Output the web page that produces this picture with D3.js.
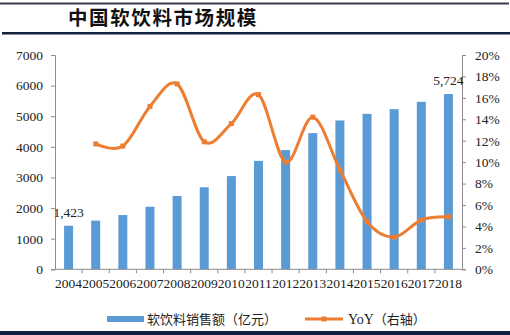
<!DOCTYPE html>
<html><head><meta charset="utf-8">
<script src="https://cdn.jsdelivr.net/npm/d3@7/dist/d3.min.js"></script>
<style>
body{margin:0;background:#fff;}
svg{display:block;}
</style></head>
<body><svg id="c" width="510" height="335"></svg>
<script>
const title = "中国软饮料市场规模";
const years = ["2004","2005","2006","2007","2008","2009","2010","2011","2012","2013","2014","2015","2016","2017","2018"];
const sales = [1423,1590,1772,2042,2395,2680,3045,3541,3895,4448,4862,5078,5231,5471,5724];
const yoy = [null,11.7,11.5,15.2,17.3,11.9,13.6,16.3,10.0,14.2,9.3,4.45,3.0,4.6,4.9];
const leftTicks = [0,1000,2000,3000,4000,5000,6000,7000];
const rightTicks = [0,2,4,6,8,10,12,14,16,18,20];
const barLabelIdx = [0,14];
const seriesNames = ["软饮料销售额（亿元）","YoY","（右轴）"];

const svg = d3.select("#c");
const M = {l:55, r:462, t:55, b:269.3};
const serif = "'Liberation Serif','Times New Roman',serif";
const cjk = "'Noto Sans CJK SC',sans-serif";
const barColor = "#5B9BD5", lineColor = "#ED7D31", axisColor = "#8c8c8c";

// decorative rules
svg.append("rect").attr("x",0).attr("y",2.5).attr("width",509).attr("height",2).attr("fill","#3b3a4c");
svg.append("rect").attr("x",2).attr("y",32).attr("width",508).attr("height",2.5).attr("fill","#13213f");
svg.append("rect").attr("x",0).attr("y",331).attr("width",510).attr("height",4).attr("fill","#0f2040");

svg.append("text").attr("x",68).attr("y",25).text(title)
  .attr("font-family",cjk).attr("font-weight",700).attr("font-size",19.5)
  .attr("letter-spacing",1.6).attr("fill","#111");

const x = d3.scaleBand().domain(years).range([M.l,M.r]);
const yL = d3.scaleLinear().domain([0,7000]).range([M.b,M.t]);
const yR = d3.scaleLinear().domain([0,20]).range([M.b,M.t]);

// bars
const bw = 9;
svg.append("g").selectAll("rect").data(sales).join("rect")
  .attr("x",(d,i)=>x(years[i])+x.bandwidth()/2-bw/2)
  .attr("y",d=>yL(d)).attr("width",bw).attr("height",d=>yL(0)-yL(d))
  .attr("fill",barColor);

// axes
const gL = svg.append("g").attr("transform",`translate(${M.l},0)`)
  .call(d3.axisLeft(yL).tickValues(leftTicks).tickSize(4).tickPadding(8).tickFormat(d3.format("d")));
const gR = svg.append("g").attr("transform",`translate(${M.r},0)`)
  .call(d3.axisRight(yR).tickValues(rightTicks).tickSize(4).tickPadding(9).tickFormat(d=>d+"%"));
const gX = svg.append("g").attr("transform",`translate(0,${M.b})`)
  .call(d3.axisBottom(x).tickSize(0).tickPadding(9));
[gL,gR,gX].forEach(g=>{
  g.selectAll("path,line").attr("stroke",axisColor);
  g.selectAll("text").attr("font-family",serif).attr("font-size",13.5).attr("fill","#222");
});
gX.select(".domain").attr("d",`M${M.l},0H${M.r}`);
gX.append("g").selectAll("line").data(years.slice(1)).join("line")
  .attr("x1",d=>x(d)).attr("x2",d=>x(d)).attr("y1",0).attr("y2",4).attr("stroke",axisColor);

// line
const pts = yoy.map((v,i)=>({v,i})).filter(d=>d.v!==null);
const line = d3.line().x(d=>x(years[d.i])+x.bandwidth()/2).y(d=>yR(d.v)).curve(d3.curveCardinal.tension(0));
svg.append("path").datum(pts).attr("d",line).attr("fill","none")
  .attr("stroke",lineColor).attr("stroke-width",3);
svg.append("g").selectAll("rect").data(pts).join("rect")
  .attr("x",d=>x(years[d.i])+x.bandwidth()/2-2.5).attr("y",d=>yR(d.v)-2.5)
  .attr("width",5).attr("height",5).attr("fill",lineColor);

// data labels
svg.append("g").selectAll("text").data(barLabelIdx).join("text")
  .attr("x",i=>x(years[i])+x.bandwidth()/2).attr("y",i=>yL(sales[i])-9)
  .attr("text-anchor","middle").attr("font-family",serif).attr("font-size",13.5).attr("fill","#222")
  .text(i=>d3.format(",")(sales[i]));

// legend
const lg = svg.append("g");
lg.append("rect").attr("x",107).attr("y",316).attr("width",37).attr("height",6).attr("fill",barColor);
lg.append("text").attr("x",147).attr("y",324).text(seriesNames[0])
  .attr("font-family",cjk).attr("font-size",13).attr("fill","#222");
lg.append("line").attr("x1",305).attr("x2",343).attr("y1",319).attr("y2",319)
  .attr("stroke",lineColor).attr("stroke-width",3);
lg.append("rect").attr("x",321.5).attr("y",316.5).attr("width",5).attr("height",5).attr("fill",lineColor);
const t2 = lg.append("text").attr("x",348).attr("y",324).attr("fill","#222").attr("font-size",13);
t2.append("tspan").attr("font-family",serif).attr("font-size",14).text(seriesNames[1]);
t2.append("tspan").attr("font-family",cjk).text(seriesNames[2]);
</script></body></html>
